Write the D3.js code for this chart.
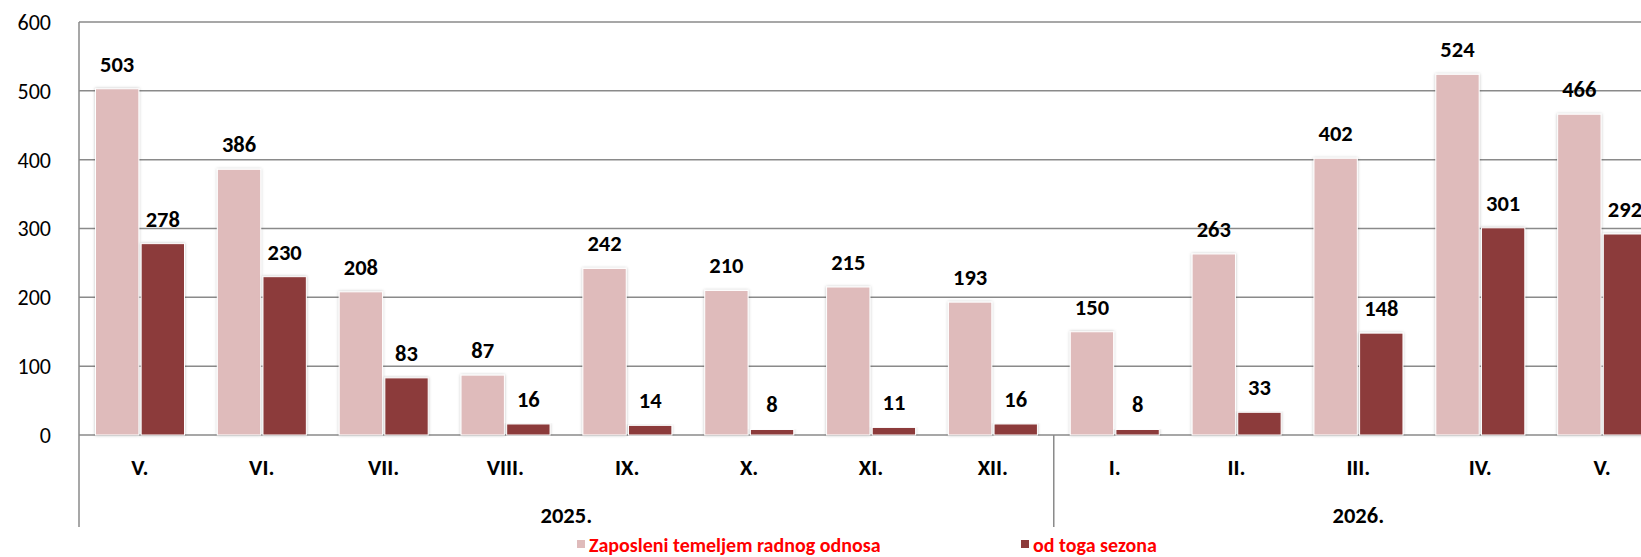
<!DOCTYPE html>
<html>
<head>
<meta charset="utf-8">
<script src="https://cdn.jsdelivr.net/npm/d3@7"></script>
<style>
  body { margin: 0; background: #fff; }
  svg { display: block; font-family: Carlito, Lato, "Liberation Sans", sans-serif; }
</style>
</head>
<body>
<div id="chart"></div>
<script>
// DATA
const months = ["V.", "VI.", "VII.", "VIII.", "IX.", "X.", "XI.", "XII.", "I.", "II.", "III.", "IV.", "V."];
const years = [{label: "2025.", count: 8}, {label: "2026.", count: 5}];
const employed = [503, 386, 208, 87, 242, 210, 215, 193, 150, 263, 402, 524, 466];
const seasonal = [278, 230, 83, 16, 14, 8, 11, 16, 8, 33, 148, 301, 292];
const seriesNames = ["Zaposleni temeljem radnog odnosa", "od toga sezona"];
const yTicks = [0, 100, 200, 300, 400, 500, 600];

const colors = ["#dfbbbb", "#8c3a3a"];
const width = 1641, height = 557;

// SCALES
const x0 = d3.scaleBand().domain(d3.range(months.length)).range([79, 1663]);
const x1 = d3.scaleBand().domain([0, 1]).range([16.5, 105.5]).paddingInner(0.05);
const y = d3.scaleLinear().domain([0, 600]).range([435, 22]);

const svg = d3.select("#chart").append("svg")
    .attr("width", width)
    .attr("height", height);

// soft shadow like the spreadsheet bars
const defs = svg.append("defs");
const filter = defs.append("filter").attr("id", "shadow")
    .attr("x", "-20%").attr("y", "-5%").attr("width", "140%").attr("height", "110%");
filter.append("feDropShadow")
    .attr("dx", 0).attr("dy", 0).attr("stdDeviation", 1.6)
    .attr("flood-color", "#000").attr("flood-opacity", 0.25);

// GRIDLINES
svg.append("g")
    .selectAll("line")
    .data(yTicks)
    .enter().append("line")
    .attr("x1", 79).attr("x2", width)
    .attr("y1", d => y(d)).attr("y2", d => y(d))
    .attr("stroke", "#8a8a8a")
    .attr("stroke-width", 1.5);

// Y AXIS LABELS
svg.append("g")
    .selectAll("text")
    .data(yTicks)
    .enter().append("text")
    .attr("x", 51)
    .attr("y", d => y(d))
    .attr("dy", "0.36em")
    .attr("text-anchor", "end")
    .attr("font-size", 22)
    .attr("fill", "#000")
    .text(d => d);

// BARS
const groups = svg.append("g")
    .selectAll("g")
    .data(months.map((m, i) => ({i, values: [employed[i], seasonal[i]]})))
    .enter().append("g")
    .attr("transform", d => `translate(${x0(d.i)},0)`);

groups.selectAll("rect")
    .data(d => d.values.map((v, s) => ({v, s})))
    .enter().append("rect")
    .attr("x", d => x1(d.s))
    .attr("y", d => y(d.v))
    .attr("width", x1.bandwidth())
    .attr("height", d => y(0) - y(d.v))
    .attr("fill", d => colors[d.s])
    .attr("stroke", "#fff")
    .attr("stroke-width", 1)
    .attr("filter", "url(#shadow)");

// value labels
groups.selectAll("text")
    .data(d => d.values.map((v, s) => ({v, s})))
    .enter().append("text")
    .attr("x", d => x1(d.s) + x1.bandwidth() / 2)
    .attr("y", d => y(d.v) - 17)
    .attr("text-anchor", "middle")
    .attr("font-size", 22.5)
    .attr("font-weight", "bold")
    .attr("fill", "#000")
    .text(d => d.v);

// AXES LINES
svg.append("line")
    .attr("x1", 79).attr("x2", 79)
    .attr("y1", y(600)).attr("y2", 527)
    .attr("stroke", "#8a8a8a").attr("stroke-width", 1.5);

// category labels
svg.append("g")
    .selectAll("text")
    .data(months)
    .enter().append("text")
    .attr("x", (d, i) => x0(i) + x0.bandwidth() / 2)
    .attr("y", 475)
    .attr("text-anchor", "middle")
    .attr("font-size", 22.5)
    .attr("font-weight", "bold")
    .text(d => d);

// year labels and divider
let start = 0;
years.forEach(yr => {
    const xa = x0(start);
    const xb = start + yr.count < months.length ? x0(start + yr.count) : x0.range()[1];
    svg.append("text")
        .attr("x", (xa + xb) / 2)
        .attr("y", 523)
        .attr("text-anchor", "middle")
        .attr("font-size", 22.5)
        .attr("font-weight", "bold")
        .text(yr.label);
    if (start > 0) {
        svg.append("line")
            .attr("x1", xa).attr("x2", xa)
            .attr("y1", y(0)).attr("y2", 527)
            .attr("stroke", "#8a8a8a").attr("stroke-width", 1.5);
    }
    start += yr.count;
});

// LEGEND
const legendX = [577, 1021];
const legend = svg.append("g")
    .selectAll("g")
    .data(seriesNames)
    .enter().append("g")
    .attr("transform", (d, i) => `translate(${legendX[i]},545)`);

legend.append("rect")
    .attr("x", 0).attr("y", -5)
    .attr("width", 8).attr("height", 8)
    .attr("fill", (d, i) => colors[i]);

legend.append("text")
    .attr("x", 12)
    .attr("y", 7)
    .attr("font-size", 20)
    .attr("font-weight", "bold")
    .attr("fill", "#ff0000")
    .text(d => d);
</script>
</body>
</html>
